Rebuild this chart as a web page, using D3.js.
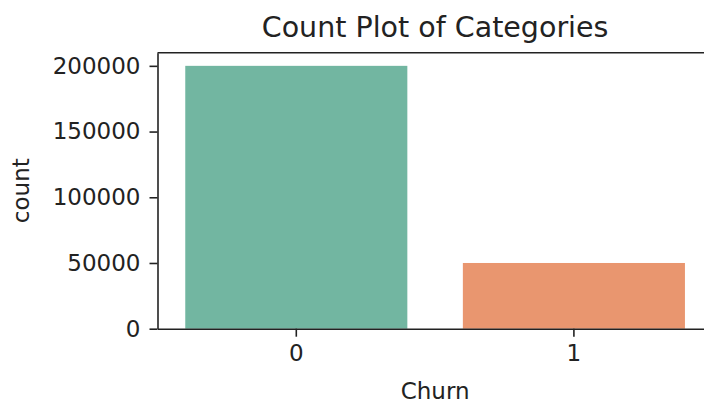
<!DOCTYPE html>
<html>
<head>
<meta charset="utf-8">
<style>
  html, body { margin: 0; padding: 0; background: #fff; }
  svg { display: block; font-family: "DejaVu Sans", sans-serif; }
</style>
</head>
<body>
<div id="container"></div>
<script src="https://cdn.jsdelivr.net/npm/d3@7"></script>
<script>
// data
const categories = ["0", "1"];
const counts = [200000, 50000];
const barColors = ["#72b6a1", "#e9966f"];
const yTicks = [0, 50000, 100000, 150000, 200000];

const width = 704, height = 403;
const marginLeft = 157.5, marginTop = 52.7, axisBottom = 328.7;
const step = 277.6;   // one category slot, axes run past the right edge

const svg = d3.select("#container").append("svg")
    .attr("width", width)
    .attr("height", height);

const x = d3.scaleBand()
    .domain(categories)
    .range([marginLeft, marginLeft + step * categories.length])
    .paddingInner(0.2)
    .paddingOuter(0.1);

const y = d3.scaleLinear()
    .domain([0, 210000])
    .range([axisBottom, marginTop]);

// bars
svg.append("g").selectAll("rect").data(counts).enter().append("rect")
    .attr("x", (d, i) => x(categories[i]))
    .attr("width", x.bandwidth())
    .attr("y", d => y(d))
    .attr("height", d => y(0) - y(d))
    .attr("fill", (d, i) => barColors[i]);

// y axis
const yAxis = svg.append("g")
    .attr("transform", `translate(${marginLeft},0)`)
    .call(d3.axisLeft(y).tickValues(yTicks).tickFormat(d3.format("d")).tickSize(8).tickSizeOuter(0).tickPadding(9));

// x axis
const xAxis = svg.append("g")
    .attr("transform", `translate(0,${axisBottom})`)
    .call(d3.axisBottom(x).tickSize(8).tickSizeOuter(0).tickPadding(8));

[yAxis, xAxis].forEach(a => {
  a.selectAll("text").attr("font-size", 23).attr("fill", "#222")
    .attr("font-family", "DejaVu Sans, sans-serif");
  a.selectAll("line").attr("stroke", "#222").attr("stroke-width", 1.6);
  a.select(".domain").attr("stroke", "#222").attr("stroke-width", 1.6);
});

// top spine
svg.append("line")
    .attr("x1", marginLeft).attr("x2", width)
    .attr("y1", marginTop).attr("y2", marginTop)
    .attr("stroke", "#222").attr("stroke-width", 1.6);

// titles
const axCenterX = marginLeft + step * categories.length / 2;
svg.append("text")
    .attr("x", axCenterX).attr("y", 37)
    .attr("text-anchor", "middle")
    .attr("font-size", 28.5).attr("fill", "#222")
    .text("Count Plot of Categories");

svg.append("text")
    .attr("x", axCenterX).attr("y", 399)
    .attr("text-anchor", "middle")
    .attr("font-size", 23).attr("fill", "#222")
    .text("Churn");

svg.append("text")
    .attr("transform", `translate(29,${(marginTop + axisBottom) / 2}) rotate(-90)`)
    .attr("text-anchor", "middle")
    .attr("font-size", 23).attr("fill", "#222")
    .text("count");
</script>
</body>
</html>
